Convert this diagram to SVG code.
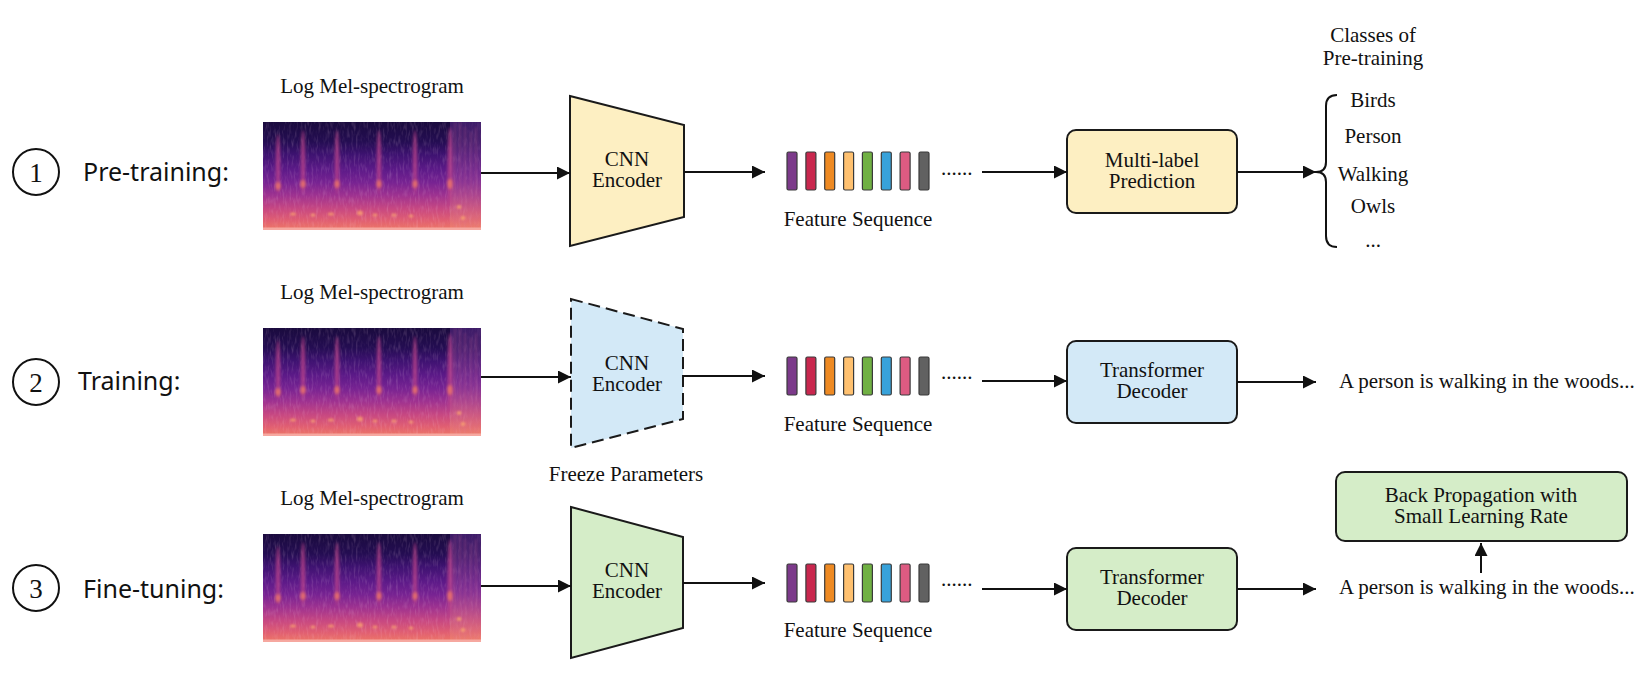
<svg xmlns="http://www.w3.org/2000/svg" xmlns:xlink="http://www.w3.org/1999/xlink" width="1648" height="686" viewBox="0 0 1648 686">
<style>
.t{font-family:"Liberation Serif","Times New Roman",serif;font-size:21px;fill:#111;text-anchor:middle}
.tl{font-family:"Liberation Serif","Times New Roman",serif;font-size:21px;fill:#111}
.lab{font-family:"Noto Sans","Open Sans",sans-serif;font-size:25px;fill:#111}
.num{font-family:"Liberation Serif","Times New Roman",serif;font-size:27px;fill:#111;text-anchor:middle}
.circ{fill:none;stroke:#111;stroke-width:2}
.enc{stroke:#1a1a1a;stroke-width:2;stroke-linejoin:miter}
.box{stroke:#1a1a1a;stroke-width:2}
.bar{stroke:#3a3a3a;stroke-width:1.2}
.con{fill:none;stroke:#111;stroke-width:2}
</style>
<defs>
<marker id="ah" markerWidth="13" markerHeight="13" refX="13" refY="6.5" orient="auto" markerUnits="userSpaceOnUse">
<path d="M0,0 L13,6.5 L0,13 Z" fill="#111"/>
</marker>
<linearGradient id="specGrad" x1="0" y1="0" x2="0" y2="1">
<stop offset="0" stop-color="#1a0b3e"/>
<stop offset="0.18" stop-color="#240d52"/>
<stop offset="0.30" stop-color="#3d1270"/>
<stop offset="0.44" stop-color="#5c1a88"/>
<stop offset="0.56" stop-color="#772392"/>
<stop offset="0.68" stop-color="#9e3290"/>
<stop offset="0.80" stop-color="#c64782"/>
<stop offset="0.91" stop-color="#e05e72"/>
<stop offset="1" stop-color="#ee7866"/>
</linearGradient>
<linearGradient id="rightGrad" x1="0" y1="0" x2="0" y2="1">
<stop offset="0" stop-color="#5a2a8a" stop-opacity="0.55"/>
<stop offset="0.5" stop-color="#a04a9a" stop-opacity="0.35"/>
<stop offset="1" stop-color="#f49070" stop-opacity="0.4"/>
</linearGradient>
<filter id="noise" x="0" y="0" width="100%" height="100%">
<feTurbulence type="fractalNoise" baseFrequency="0.45 0.12" numOctaves="2" seed="4" result="n"/>
<feColorMatrix in="n" type="matrix" values="0 0 0 0 1  0 0 0 0 0.7  0 0 0 0 0.85  0 0 0 1.6 -0.75"/>
</filter>
<filter id="blur1"><feGaussianBlur stdDeviation="1.4"/></filter>
<filter id="blur2"><feGaussianBlur stdDeviation="0.8"/></filter>
<clipPath id="specClip"><rect x="0" y="0" width="218" height="108"/></clipPath>
<symbol id="spec" viewBox="0 0 218 108">
<g clip-path="url(#specClip)">
<rect x="0" y="0" width="218" height="108" fill="url(#specGrad)"/>
<rect x="0" y="0" width="218" height="108" filter="url(#noise)" opacity="0.24"/>
<rect x="187" y="0" width="31" height="108" fill="url(#rightGrad)"/>
<g fill="#c0458a" opacity="0.75" filter="url(#blur1)">
<ellipse cx="15" cy="42" rx="2.2" ry="30"/>
<ellipse cx="40" cy="40" rx="2.2" ry="32"/>
<ellipse cx="74" cy="40" rx="2.2" ry="32"/>
<ellipse cx="116" cy="40" rx="2.2" ry="32"/>
<ellipse cx="152" cy="40" rx="2.2" ry="32"/>
<ellipse cx="187" cy="45" rx="2.5" ry="40"/>
</g>
<g fill="#f07868" opacity="0.85" filter="url(#blur1)">
<ellipse cx="15" cy="64" rx="2.5" ry="4"/>
<ellipse cx="40" cy="62" rx="2.5" ry="4"/>
<ellipse cx="74" cy="62" rx="2.5" ry="4"/>
<ellipse cx="116" cy="62" rx="2.5" ry="4"/>
<ellipse cx="152" cy="62" rx="2.5" ry="4"/>
<ellipse cx="187" cy="62" rx="2.5" ry="5"/>
</g>
<g stroke="#d76a96" stroke-width="0.8" opacity="0.5" filter="url(#blur2)">
<line x1="192" y1="0" x2="192" y2="108"/>
<line x1="197" y1="0" x2="197" y2="108"/>
<line x1="202" y1="5" x2="202" y2="108"/>
<line x1="208" y1="10" x2="208" y2="108"/>
<line x1="213" y1="5" x2="213" y2="108"/>
</g>
<g fill="#f9a070" opacity="0.8" filter="url(#blur2)">
<ellipse cx="30" cy="92" rx="3" ry="1.6"/>
<ellipse cx="50" cy="93" rx="2.5" ry="1.5"/>
<ellipse cx="68" cy="92" rx="3" ry="1.5"/>
<ellipse cx="97" cy="91" rx="3" ry="2.5"/>
<ellipse cx="112" cy="93" rx="2.5" ry="1.5"/>
<ellipse cx="131" cy="93" rx="2.5" ry="1.5"/>
<ellipse cx="148" cy="94" rx="2.5" ry="1.5"/>
<ellipse cx="196" cy="85" rx="2.5" ry="2"/>
<ellipse cx="200" cy="96" rx="2.5" ry="2"/>
</g>
<rect x="0" y="105.5" width="218" height="2.5" fill="#f6a8a0"/>
</g>
</symbol>
</defs>

<g id="row-labels">
<g id="step1"><circle class="circ" cx="36" cy="172" r="23"/><text class="num" x="36" y="182">1</text><text class="lab" x="83" y="181">Pre-training:</text></g>
<g id="step2"><circle class="circ" cx="36" cy="382" r="23"/><text class="num" x="36" y="392">2</text><text class="lab" x="78" y="390">Training:</text></g>
<g id="step3"><circle class="circ" cx="36" cy="588" r="23"/><text class="num" x="36" y="598">3</text><text class="lab" x="83" y="598">Fine-tuning:</text></g>
</g>

<g id="spectrogram1"><text class="t" x="372" y="93">Log Mel-spectrogram</text><use href="#spec" x="263" y="122" width="218" height="108"/></g>
<g id="spectrogram2"><text class="t" x="372" y="299">Log Mel-spectrogram</text><use href="#spec" x="263" y="328" width="218" height="108"/></g>
<g id="spectrogram3"><text class="t" x="372" y="505">Log Mel-spectrogram</text><use href="#spec" x="263" y="534" width="218" height="108"/></g>

<g id="encoder1"><polygon class="enc" points="570,96 684,125 684,217 570,246" fill="#fdefc2"/><text class="t" x="627" y="166">CNN</text><text class="t" x="627" y="187">Encoder</text></g>
<g id="encoder2"><polygon class="enc" points="571,299 683,329 683,419 571,448" fill="#d3e9f7" stroke-dasharray="12,6"/><text class="t" x="627" y="370">CNN</text><text class="t" x="627" y="391">Encoder</text><text class="t" x="626" y="481">Freeze Parameters</text></g>
<g id="encoder3"><polygon class="enc" points="571,507 683,537 683,628 571,658" fill="#d5edc8"/><text class="t" x="627" y="577">CNN</text><text class="t" x="627" y="598">Encoder</text></g>

<g id="features1">
<rect class="bar" x="787" y="152" width="10" height="38" rx="1.5" fill="#7c3a8a"/>
<rect class="bar" x="805.9" y="152" width="10" height="38" rx="1.5" fill="#c9274e"/>
<rect class="bar" x="824.7" y="152" width="10" height="38" rx="1.5" fill="#ee8a23"/>
<rect class="bar" x="843.6" y="152" width="10" height="38" rx="1.5" fill="#ffc170"/>
<rect class="bar" x="862.4" y="152" width="10" height="38" rx="1.5" fill="#70b043"/>
<rect class="bar" x="881.3" y="152" width="10" height="38" rx="1.5" fill="#38a2da"/>
<rect class="bar" x="900.1" y="152" width="10" height="38" rx="1.5" fill="#dd5b82"/>
<rect class="bar" x="919" y="152" width="10" height="38" rx="1.5" fill="#616161"/>
<text class="tl" x="941" y="175">......</text>
<text class="t" x="858" y="226">Feature Sequence</text>
</g>
<g id="features2">
<rect class="bar" x="787" y="357" width="10" height="38" rx="1.5" fill="#7c3a8a"/>
<rect class="bar" x="805.9" y="357" width="10" height="38" rx="1.5" fill="#c9274e"/>
<rect class="bar" x="824.7" y="357" width="10" height="38" rx="1.5" fill="#ee8a23"/>
<rect class="bar" x="843.6" y="357" width="10" height="38" rx="1.5" fill="#ffc170"/>
<rect class="bar" x="862.4" y="357" width="10" height="38" rx="1.5" fill="#70b043"/>
<rect class="bar" x="881.3" y="357" width="10" height="38" rx="1.5" fill="#38a2da"/>
<rect class="bar" x="900.1" y="357" width="10" height="38" rx="1.5" fill="#dd5b82"/>
<rect class="bar" x="919" y="357" width="10" height="38" rx="1.5" fill="#616161"/>
<text class="tl" x="941" y="379">......</text>
<text class="t" x="858" y="431">Feature Sequence</text>
</g>
<g id="features3">
<rect class="bar" x="787" y="564" width="10" height="38" rx="1.5" fill="#7c3a8a"/>
<rect class="bar" x="805.9" y="564" width="10" height="38" rx="1.5" fill="#c9274e"/>
<rect class="bar" x="824.7" y="564" width="10" height="38" rx="1.5" fill="#ee8a23"/>
<rect class="bar" x="843.6" y="564" width="10" height="38" rx="1.5" fill="#ffc170"/>
<rect class="bar" x="862.4" y="564" width="10" height="38" rx="1.5" fill="#70b043"/>
<rect class="bar" x="881.3" y="564" width="10" height="38" rx="1.5" fill="#38a2da"/>
<rect class="bar" x="900.1" y="564" width="10" height="38" rx="1.5" fill="#dd5b82"/>
<rect class="bar" x="919" y="564" width="10" height="38" rx="1.5" fill="#616161"/>
<text class="tl" x="941" y="586">......</text>
<text class="t" x="858" y="637">Feature Sequence</text>
</g>

<g id="multilabel"><rect class="box" x="1067" y="130" width="170" height="83" rx="9" fill="#fdefc2"/><text class="t" x="1152" y="167">Multi-label</text><text class="t" x="1152" y="188">Prediction</text></g>
<g id="decoder2"><rect class="box" x="1067" y="341" width="170" height="82" rx="9" fill="#d3e9f7"/><text class="t" x="1152" y="377">Transformer</text><text class="t" x="1152" y="398">Decoder</text></g>
<g id="decoder3"><rect class="box" x="1067" y="548" width="170" height="82" rx="9" fill="#d5edc8"/><text class="t" x="1152" y="584">Transformer</text><text class="t" x="1152" y="605">Decoder</text></g>
<g id="backprop"><rect class="box" x="1336" y="472" width="291" height="69" rx="9" fill="#d5edc8"/><text class="t" x="1481" y="502">Back Propagation with</text><text class="t" x="1481" y="523">Small Learning Rate</text></g>

<g id="classes">
<text class="t" x="1373" y="42">Classes of</text>
<text class="t" x="1373" y="65">Pre-training</text>
<path class="con" d="M1337,95 Q1326,95 1326,106 L1326,162 Q1326,172 1316,172 Q1326,172 1326,182 L1326,236 Q1326,247 1337,247"/>
<text class="t" x="1373" y="107">Birds</text>
<text class="t" x="1373" y="143">Person</text>
<text class="t" x="1373" y="181">Walking</text>
<text class="t" x="1373" y="213">Owls</text>
<text class="t" x="1373" y="247">...</text>
</g>
<g id="caption2"><text class="tl" x="1339" y="388">A person is walking in the woods...</text></g>
<g id="caption3"><text class="tl" x="1339" y="594">A person is walking in the woods...</text></g>

<g id="connectors">
<path class="con" d="M481,173 L570,173" marker-end="url(#ah)"/>
<path class="con" d="M684,172 L765,172" marker-end="url(#ah)"/>
<path class="con" d="M982,172 L1067,172" marker-end="url(#ah)"/>
<path class="con" d="M1237,172 L1316,172" marker-end="url(#ah)"/>
<path class="con" d="M481,377 L571,377" marker-end="url(#ah)"/>
<path class="con" d="M683,376 L765,376" marker-end="url(#ah)"/>
<path class="con" d="M982,381 L1067,381" marker-end="url(#ah)"/>
<path class="con" d="M1237,382 L1316,382" marker-end="url(#ah)"/>
<path class="con" d="M481,586 L571,586" marker-end="url(#ah)"/>
<path class="con" d="M683,583 L765,583" marker-end="url(#ah)"/>
<path class="con" d="M982,589 L1067,589" marker-end="url(#ah)"/>
<path class="con" d="M1237,589 L1316,589" marker-end="url(#ah)"/>
<path class="con" d="M1481,573 L1481,543" marker-end="url(#ah)"/>
</g>
</svg>
